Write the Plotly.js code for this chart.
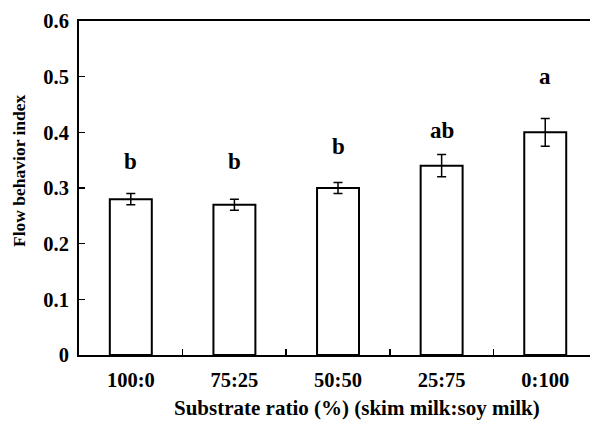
<!DOCTYPE html>
<html><head><meta charset="utf-8">
<script src="https://cdn.plot.ly/plotly-3.0.1.min.js"></script>
<style>html,body{margin:0;padding:0;background:#fff}#c{width:590px;height:421px}</style>
</head><body><div id="c"></div>
<script>
const categories = ["100:0", "75:25", "50:50", "25:75", "0:100"];
const values = [0.28, 0.27, 0.30, 0.34, 0.40];
const errors = [0.01, 0.01, 0.01, 0.02, 0.025];
const letters = ["b", "b", "b", "ab", "a"];
const letterY = [0.348, 0.348, 0.375, 0.404, 0.501];
const yTickVals = [0, 0.1, 0.2, 0.3, 0.4, 0.5, 0.6];
const yTickText = ["0", "0.1", "0.2", "0.3", "0.4", "0.5", "0.6"];
const xTitle = "Substrate ratio (%) (skim milk:soy milk)";
const yTitle = "Flow behavior index";

const font = "Liberation Serif, Times New Roman, serif";
const trace = {
  type: "bar", x: categories, y: values, width: 0.405,
  marker: {color: "#fff", line: {color: "#000", width: 2}},
  error_y: {type: "data", array: errors, visible: true, color: "#000", thickness: 1.5, width: 4.5}
};
const annotations = categories.map((c, i) => ({
  x: c, y: letterY[i], xref: "x", yref: "y", text: "<b>" + letters[i] + "</b>",
  showarrow: false, font: {family: font, size: 23, color: "#000"}
}));
annotations.push({
  xref: "paper", yref: "paper", x: (356.5 - 79) / 511, y: -(408 - 355) / 334,
  text: "<b>" + xTitle + "</b>", showarrow: false, xanchor: "center", yanchor: "middle",
  font: {family: font, size: 21, color: "#000"}
});
annotations.push({
  xref: "paper", yref: "paper", x: -(79 - 19) / 511, y: (355 - 171) / 334,
  text: "<b>" + yTitle + "</b>", showarrow: false, textangle: -90, xanchor: "center", yanchor: "middle",
  font: {family: font, size: 17.5, color: "#000"}
});
const layout = {
  width: 590, height: 421, margin: {l: 79, r: 0, t: 21, b: 66},
  paper_bgcolor: "#fff", plot_bgcolor: "#fff", showlegend: false,
  font: {family: font, color: "#000"},
  xaxis: {
    type: "category", range: [-0.5, 4.432], tickson: "boundaries",
    ticks: "inside", ticklen: 6, tickwidth: 1.5, tickcolor: "#000",
    showline: true, linecolor: "#000", linewidth: 2, mirror: true,
    showgrid: false, zeroline: false, ticklabelstandoff: 5,
    tickfont: {family: font, size: 20.5, weight: "bold"}
  },
  yaxis: {
    range: [0, 0.6], tickvals: yTickVals, ticktext: yTickText,
    ticks: "inside", ticklen: 6, tickwidth: 1.5, tickcolor: "#000",
    showline: true, linecolor: "#000", linewidth: 2, mirror: false,
    showgrid: false, zeroline: false, ticklabelstandoff: 4,
    tickfont: {family: font, size: 20.5, weight: "bold"}
  },
  annotations: annotations
};
Plotly.newPlot("c", [trace], layout, {displayModeBar: false, staticPlot: true});
</script></body></html>
